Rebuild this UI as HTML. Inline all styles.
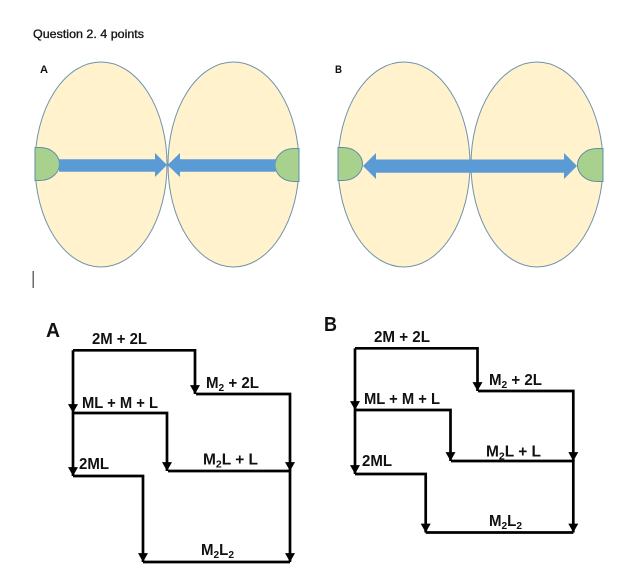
<!DOCTYPE html>
<html>
<head>
<meta charset="utf-8">
<style>
html,body{margin:0;padding:0;background:#fff;}
svg{display:block;filter:blur(.3px);}
text{font-family:"Liberation Sans",sans-serif;font-weight:bold;fill:#111;}
.l{font-size:15.5px;}
.s{font-size:10.5px;}
</style>
</head>
<body>
<svg width="625" height="577" viewBox="0 0 625 577" xmlns="http://www.w3.org/2000/svg">
<defs>
<marker id="h" markerUnits="userSpaceOnUse" markerWidth="10" markerHeight="9" refX="4.5" refY="8" orient="0" viewBox="0 0 9 8"><path d="M0 0L9 0L4.5 8Z" fill="#000"/></marker>
</defs>
<rect width="625" height="577" fill="#fff"/>

<text x="33" y="38" font-size="12" textLength="111" lengthAdjust="spacingAndGlyphs" style="font-weight:normal;stroke:#222;stroke-width:.35">Question 2. 4 points</text>
<text x="40" y="73" font-size="11" textLength="8" lengthAdjust="spacingAndGlyphs">A</text>
<text x="335" y="73" font-size="11" textLength="7" lengthAdjust="spacingAndGlyphs">B</text>
<rect x="32.6" y="271" width="1.2" height="17" fill="#444"/>

<g fill="#fff2cc" stroke="#6f93ad" stroke-width="1">
<ellipse cx="101" cy="164.5" rx="66" ry="102.5"/>
<ellipse cx="233.5" cy="164.5" rx="65.5" ry="102.5"/>
<ellipse cx="404" cy="164.5" rx="66" ry="102.5"/>
<ellipse cx="537" cy="164.5" rx="66" ry="102.5"/>
</g>
<g fill="#a9d18e" stroke="#5f8fa8" stroke-width="1">
<path d="M35 147.5H40C52 147.5 59.5 156 59.5 164C59.5 172 52 180.5 40 180.5H35Z"/>
<path d="M299 148.5H294C282 148.5 275 157 275 165C275 173 282 181.5 294 181.5H299Z"/>
<path d="M338 147.5H343C355 147.5 362.5 156 362.5 164C362.5 172 355 180.5 343 180.5H338Z"/>
<path d="M603 148.5H597C585 148.5 577.5 157 577.5 165C577.5 173 585 181.5 597 181.5H603Z"/>
</g>
<g fill="#5b9bd5">
<path d="M59 159.3H155V153L167 165L155 177V171.7H59Z"/>
<path d="M275.5 159.3H180V153L167.5 165L180 177V171.7H275.5Z"/>
<path d="M363 166L376 153V159.5H564V153L577 166L564 179V172.8H376V179Z"/>
</g>

<g fill="none" stroke="#000" stroke-width="2.7">
<path d="M73 350.3H195V394" marker-end="url(#h)"/>
<path d="M73 350.3V413" marker-end="url(#h)"/>
<path d="M196 394H290V471" marker-end="url(#h)"/>
<path d="M73 413H167V471" marker-end="url(#h)"/>
<path d="M73 413V476" marker-end="url(#h)"/>
<path d="M168 471H290V562" marker-end="url(#h)"/>
<path d="M73 476H143V562" marker-end="url(#h)"/>
<path d="M143 562H290"/>
</g>
<text x="46" y="337" font-size="20" textLength="14" lengthAdjust="spacingAndGlyphs">A</text>
<text class="l" x="92" y="344" textLength="55" lengthAdjust="spacingAndGlyphs">2M + 2L</text>
<text class="l" x="206" y="388" textLength="53" lengthAdjust="spacingAndGlyphs">M<tspan class="s" dy="3">2</tspan><tspan dy="-3"> + 2L</tspan></text>
<text class="l" x="82" y="408" textLength="76" lengthAdjust="spacingAndGlyphs">ML + M + L</text>
<text class="l" x="203" y="464.5" textLength="55" lengthAdjust="spacingAndGlyphs">M<tspan class="s" dy="3">2</tspan><tspan dy="-3">L  + L</tspan></text>
<text class="l" x="79" y="469" textLength="30" lengthAdjust="spacingAndGlyphs">2ML</text>
<text class="l" x="201" y="555" textLength="33" lengthAdjust="spacingAndGlyphs">M<tspan class="s" dy="3">2</tspan><tspan dy="-3">L</tspan><tspan class="s" dy="3">2</tspan></text>

<g fill="none" stroke="#000" stroke-width="2.7">
<path d="M355 348.3H477.5V391" marker-end="url(#h)"/>
<path d="M355 348.3V410" marker-end="url(#h)"/>
<path d="M478 391H573.3V461" marker-end="url(#h)"/>
<path d="M355 410H450.5V461" marker-end="url(#h)"/>
<path d="M355 410V474" marker-end="url(#h)"/>
<path d="M451 461H573.3V532.5" marker-end="url(#h)"/>
<path d="M355 474H425.7V532.5" marker-end="url(#h)"/>
<path d="M425.7 532.5H573.3"/>
</g>
<text x="324" y="331" font-size="20" textLength="13" lengthAdjust="spacingAndGlyphs">B</text>
<text class="l" x="374" y="342" textLength="56" lengthAdjust="spacingAndGlyphs">2M + 2L</text>
<text class="l" x="489" y="385" textLength="53" lengthAdjust="spacingAndGlyphs">M<tspan class="s" dy="3">2</tspan><tspan dy="-3"> + 2L</tspan></text>
<text class="l" x="364" y="404" textLength="76" lengthAdjust="spacingAndGlyphs">ML + M + L</text>
<text class="l" x="486" y="456.5" textLength="55" lengthAdjust="spacingAndGlyphs">M<tspan class="s" dy="3">2</tspan><tspan dy="-3">L  + L</tspan></text>
<text class="l" x="362" y="466" textLength="30" lengthAdjust="spacingAndGlyphs">2ML</text>
<text class="l" x="489" y="526" textLength="33" lengthAdjust="spacingAndGlyphs">M<tspan class="s" dy="3">2</tspan><tspan dy="-3">L</tspan><tspan class="s" dy="3">2</tspan></text>
</svg>
</body>
</html>
